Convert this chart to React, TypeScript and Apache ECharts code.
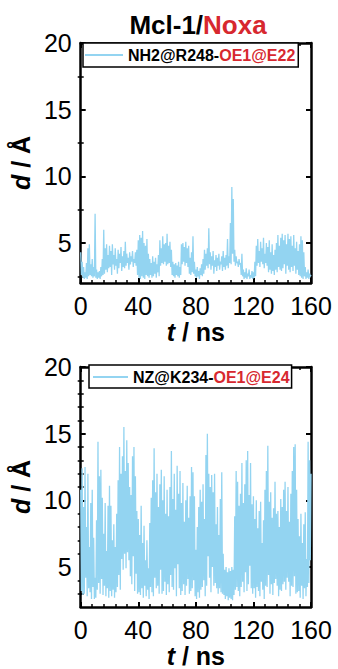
import React, { useEffect, useRef } from "react";
import * as echarts from "echarts";

// ---- data ----
const T_STEP_NS = 0.5;
const X_MIN = 0;
const X_MAX = 160;
const X_INTERVAL = 40;
const Y_MIN = 2;
const Y_MAX = 20;
const yMajorTicks = [5, 10, 15, 20];
const topMinorTicks = [2.5, 7.5, 12.5, 17.5];
const bottomMinorTicks = [3, 4, 6, 7, 8, 9, 11, 12, 13, 14, 16, 17, 18, 19];
const titleParts = ["Mcl-1/", "Noxa"];
const topSeriesName = "NH2@R248-OE1@E22";
const bottomSeriesName = "NZ@K234-OE1@E24";
const xAxisTitle = ["t", " / ns"];
const yAxisTitle = ["d", " / Å"];

const topDistance = [
  4.3, 2.6, 3.6, 2.4, 3.2, 2.3, 2.8, 2.4, 3.5, 2.3, 4.6, 2.5, 4.9, 2.6, 3.4, 2.5, 3.8, 2.4, 3.2, 2.5,
  7.2, 2.4, 3.0, 2.3, 2.8, 2.4, 2.9, 2.3, 3.2, 2.5, 3.8, 2.6, 6.0, 2.7, 4.6, 3.0, 4.9, 2.8, 4.1, 3.1,
  4.8, 3.2, 4.4, 2.6, 4.9, 3.4, 4.1, 3.0, 4.6, 3.3, 3.8, 2.7, 4.5, 3.1, 4.2, 3.5, 4.7, 2.9, 4.0, 3.2,
  4.4, 3.1, 5.1, 3.3, 4.2, 3.5, 3.9, 3.0, 4.3, 3.4, 4.0, 3.6, 4.4, 3.2, 3.8, 3.5, 4.3, 3.3, 4.5, 2.6,
  5.2, 2.4, 5.6, 2.3, 5.4, 2.5, 5.9, 2.4, 5.0, 2.3, 4.8, 2.6, 5.3, 2.5, 4.2, 2.4, 3.8, 2.6, 3.5, 2.4,
  4.0, 2.5, 3.6, 2.7, 3.9, 2.4, 3.4, 2.8, 4.1, 2.5, 5.2, 3.3, 4.6, 3.5, 5.5, 3.4, 4.9, 3.6, 5.0, 3.3,
  5.7, 3.4, 4.8, 3.5, 5.1, 3.2, 4.5, 2.6, 3.6, 2.5, 3.4, 2.4, 3.5, 2.6, 3.3, 2.5, 3.6, 2.4, 3.2, 2.6,
  4.9, 3.4, 5.0, 3.6, 4.7, 3.3, 5.1, 3.5, 4.6, 3.2, 4.8, 2.7, 3.9, 2.6, 4.3, 2.8, 5.5, 2.7, 3.6, 2.5,
  3.0, 2.4, 3.2, 2.5, 2.9, 2.3, 3.1, 2.6, 3.4, 2.5, 3.8, 2.7, 4.5, 3.0, 4.2, 3.3, 4.6, 3.1, 6.1, 3.4,
  4.3, 3.0, 4.0, 3.3, 4.4, 2.7, 3.7, 3.2, 4.1, 2.9, 3.9, 3.3, 4.2, 3.0, 3.6, 3.4, 4.0, 2.9, 4.4, 3.2,
  3.9, 3.0, 4.1, 3.3, 5.3, 3.1, 4.0, 3.5, 6.5, 3.4, 9.2, 4.2, 8.3, 3.6, 4.5, 3.3, 4.0, 3.5, 3.6, 3.2,
  3.8, 3.4, 3.5, 2.6, 4.2, 2.5, 3.0, 2.3, 2.8, 2.4, 3.1, 2.3, 2.7, 2.5, 3.0, 2.3, 2.6, 2.4, 2.9, 2.3,
  2.8, 2.4, 3.6, 2.5, 4.8, 3.3, 5.3, 3.5, 4.4, 3.2, 5.1, 3.6, 4.6, 3.4, 5.4, 3.1, 4.2, 3.5, 5.0, 3.3,
  4.7, 2.8, 5.2, 3.0, 4.3, 2.7, 4.9, 2.9, 4.1, 2.6, 4.5, 3.0, 5.0, 2.8, 5.6, 3.2, 4.8, 3.0, 5.4, 2.9,
  5.7, 3.1, 5.2, 3.4, 5.6, 2.7, 4.9, 3.3, 5.7, 3.0, 5.3, 2.8, 5.5, 3.2, 4.8, 2.9, 5.6, 3.3, 4.6, 2.7,
  5.1, 3.0, 4.4, 2.6, 4.9, 2.5, 5.5, 2.4, 5.2, 2.3, 4.3, 2.5, 3.2, 2.3, 2.8, 2.4, 3.0, 2.3, 2.7, 2.5, 2.6,
];

const bottomDistance = [
  10.8, 3.2, 12.4, 2.9, 9.5, 3.0, 12.5, 4.2, 8.0, 2.8, 12.0, 3.4, 6.5, 3.1, 9.8, 2.6, 10.8, 3.5, 7.2, 2.6,
  4.2, 2.7, 8.5, 3.3, 14.4, 3.8, 11.8, 3.0, 12.3, 4.1, 10.2, 2.9, 7.5, 3.6, 9.8, 2.8, 6.2, 3.4, 9.6, 2.7,
  11.1, 3.2, 9.6, 2.8, 7.0, 3.3, 8.2, 2.7, 6.5, 3.1, 9.0, 3.5, 11.5, 4.4, 14.0, 3.3, 12.0, 5.6, 13.3, 4.8,
  15.5, 6.0, 12.2, 4.9, 14.5, 6.1, 12.8, 5.5, 11.0, 4.3, 10.4, 3.7, 13.3, 5.8, 14.0, 3.2, 11.8, 4.5, 9.2, 3.0,
  8.6, 3.1, 7.4, 2.9, 9.6, 3.4, 6.8, 2.7, 8.1, 3.6, 5.5, 2.8, 7.0, 3.3, 4.9, 2.6, 8.3, 3.5, 10.2, 3.1,
  11.5, 2.8, 13.9, 4.2, 10.6, 3.4, 12.0, 3.6, 9.5, 3.0, 11.2, 4.8, 12.3, 3.0, 10.0, 3.2, 11.8, 3.9, 9.0, 2.9,
  10.8, 3.7, 8.8, 3.1, 11.0, 4.4, 13.7, 3.5, 10.1, 3.3, 12.0, 4.9, 9.3, 2.8, 12.6, 5.2, 10.5, 3.4, 12.2, 2.9,
  9.8, 3.2, 11.3, 3.7, 8.4, 2.9, 10.0, 3.6, 11.1, 4.1, 8.7, 3.0, 10.3, 3.2, 12.5, 3.4, 12.1, 4.0, 10.3, 2.8,
  6.3, 2.6, 8.0, 3.1, 9.5, 2.7, 10.8, 3.3, 9.9, 3.5, 11.2, 4.0, 8.6, 2.8, 13.4, 3.6, 15.0, 5.8, 12.0, 4.2,
  11.0, 3.1, 11.9, 5.0, 10.6, 3.6, 12.0, 3.8, 8.2, 3.4, 9.5, 3.0, 7.4, 3.4, 10.1, 3.1, 12.1, 3.0, 6.0, 2.9,
  4.8, 2.6, 5.0, 2.8, 4.6, 2.5, 4.9, 2.7, 4.7, 2.6, 5.0, 2.5, 4.8, 2.9, 8.8, 3.3, 12.2, 3.5, 11.4, 3.2,
  9.6, 2.8, 10.5, 3.5, 12.8, 3.9, 9.8, 3.1, 11.2, 4.6, 13.0, 3.2, 13.7, 3.7, 10.4, 5.1, 12.8, 3.4, 9.7, 3.0,
  10.3, 3.4, 8.6, 2.7, 10.0, 3.5, 7.9, 3.2, 9.2, 2.8, 9.9, 3.9, 6.8, 3.3, 8.5, 2.6, 10.8, 3.6, 12.2, 3.5,
  14.1, 4.4, 9.9, 3.0, 10.6, 3.7, 8.7, 2.9, 9.4, 3.8, 11.4, 4.1, 9.0, 3.6, 9.2, 2.8, 8.0, 3.3, 10.1, 3.2,
  9.5, 3.7, 10.8, 3.9, 11.4, 3.3, 9.2, 4.2, 11.0, 3.9, 8.4, 2.8, 10.5, 3.6, 12.2, 3.5, 14.0, 4.3, 14.2, 3.0,
  10.8, 3.1, 8.6, 3.2, 7.3, 2.7, 9.0, 3.6, 6.8, 2.6, 8.2, 3.4, 9.1, 2.8, 5.6, 3.5, 14.4, 3.8, 13.0, 5.5, 12.0,
];

// ---- styles ----
const FONT = '"Liberation Sans", Arial, Helvetica, sans-serif';
const BLUE = "#93d4f1";
const RED = "#d7282f";
const BLACK = "#000";

const GRIDS = [
  { left: 75, top: 43, width: 236, height: 240 },
  { left: 75, top: 367, width: 236, height: 240 },
];

function toPairs(values: number[]) {
  return values.map((v, i) => [i * T_STEP_NS, v]);
}

function legendFormatter(name: string) {
  const k = name.indexOf("-");
  return `{a|${name.slice(0, k + 1)}}{b|${name.slice(k + 1)}}`;
}

function xAxes(gridIndex: number) {
  const common = {
    type: "value",
    gridIndex,
    min: X_MIN,
    max: X_MAX,
    interval: X_INTERVAL,
    splitLine: { show: false },
    axisLine: { show: true, onZero: false, lineStyle: { color: BLACK, width: 2.5 } },
    axisTick: { show: true, inside: true, length: 5, lineStyle: { color: BLACK, width: 2 } },
    minorTick: { show: true, splitNumber: 5, length: 3, lineStyle: { color: BLACK, width: 1.5 } },
  };
  return [
    {
      ...common,
      position: "bottom",
      axisLabel: { show: true, fontSize: 25, color: BLACK, fontFamily: FONT, margin: 10 },
      name: `{i|${xAxisTitle[0]}}${xAxisTitle[1]}`,
      nameLocation: "middle",
      nameGap: 36,
      nameTextStyle: {
        fontSize: 25,
        fontWeight: "bold",
        color: BLACK,
        fontFamily: FONT,
        rich: { i: { fontSize: 25, fontWeight: "bold", fontStyle: "italic", color: BLACK, fontFamily: FONT } },
      },
    },
    { ...common, position: "top", axisLabel: { show: false } },
  ];
}

function yAxes(gridIndex: number, minorTicks: number[]) {
  const base = {
    type: "value",
    gridIndex,
    min: Y_MIN,
    max: Y_MAX,
    splitLine: { show: false },
  };
  const major = (position: string, withLabel: boolean) => ({
    ...base,
    position,
    axisLine: { show: true, onZero: false, lineStyle: { color: BLACK, width: 2.5 } },
    axisTick: {
      show: true,
      inside: true,
      length: 5,
      customValues: yMajorTicks,
      lineStyle: { color: BLACK, width: 2 },
    },
    axisLabel: withLabel
      ? { show: true, customValues: yMajorTicks, fontSize: 25, color: BLACK, fontFamily: FONT, margin: 9 }
      : { show: false },
    ...(withLabel
      ? {
          name: `{i|${yAxisTitle[0]}}${yAxisTitle[1]}`,
          nameLocation: "middle",
          nameGap: 39,
          nameTextStyle: {
            fontSize: 25,
            fontWeight: "bold",
            color: BLACK,
            fontFamily: FONT,
            rich: { i: { fontSize: 25, fontWeight: "bold", fontStyle: "italic", color: BLACK, fontFamily: FONT } },
          },
        }
      : {}),
  });
  const minor = (position: string) => ({
    ...base,
    position,
    axisLine: { show: false },
    axisLabel: { show: false },
    axisTick: {
      show: true,
      inside: true,
      length: 3,
      customValues: minorTicks,
      lineStyle: { color: BLACK, width: 1.5 },
    },
  });
  return [major("left", true), minor("left"), major("right", false), minor("right")];
}

function legendFor(name: string, left: number, top: number, itemWidth: number, padding: number[]) {
  return {
    data: [name],
    left,
    top,
    orient: "horizontal",
    padding,
    itemWidth,
    itemHeight: 2,
    icon: "rect",
    selectedMode: false,
    backgroundColor: "#fff",
    borderColor: BLACK,
    borderWidth: 1.5,
    borderRadius: 0,
    formatter: legendFormatter,
    textStyle: {
      fontFamily: FONT,
      fontSize: 16,
      fontWeight: "bold",
      lineHeight: 16,
      rich: {
        a: { color: BLACK, fontSize: 16, fontWeight: "bold", fontFamily: FONT, lineHeight: 16 },
        b: { color: RED, fontSize: 16, fontWeight: "bold", fontFamily: FONT, lineHeight: 16 },
      },
    },
  };
}

export default function App() {
  const ref = useRef<HTMLDivElement>(null);

  useEffect(() => {
    if (!ref.current) return;
    const chart = echarts.init(ref.current, null, { renderer: "svg" });
    const option = {
      animation: false,
      backgroundColor: "#fff",
      title: {
        text: `{a|${titleParts[0]}}{b|${titleParts[1]}}`,
        left: 193,
        top: 7,
        textAlign: "center",
        textStyle: {
          rich: {
            a: { color: BLACK, fontSize: 26, fontWeight: "bold", fontFamily: FONT },
            b: { color: RED, fontSize: 26, fontWeight: "bold", fontFamily: FONT },
          },
        },
      },
      legend: [
        legendFor(topSeriesName, 83, 43, 38, [4, 3, 4, 2]),
        legendFor(bottomSeriesName, 89, 365, 35, [4, 2, 3, 4]),
      ],
      grid: GRIDS.map((g) => ({ ...g, show: false })),
      xAxis: [...xAxes(0), ...xAxes(1)],
      yAxis: [...yAxes(0, topMinorTicks), ...yAxes(1, bottomMinorTicks)],
      series: [
        {
          name: topSeriesName,
          type: "line",
          xAxisIndex: 0,
          yAxisIndex: 0,
          showSymbol: false,
          symbol: "none",
          color: BLUE,
          lineStyle: { color: BLUE, width: 1.3 },
          itemStyle: { color: BLUE },
          data: toPairs(topDistance),
        },
        {
          name: bottomSeriesName,
          type: "line",
          xAxisIndex: 2,
          yAxisIndex: 4,
          showSymbol: false,
          symbol: "none",
          color: BLUE,
          lineStyle: { color: BLUE, width: 1.3 },
          itemStyle: { color: BLUE },
          data: toPairs(bottomDistance),
        },
      ],
    };
    chart.setOption(option as any);
    return () => chart.dispose();
  }, []);

  return (
    <div
      ref={ref}
      style={{ position: "absolute", left: 0, top: 0, width: 338, height: 669, background: "#fff" }}
    />
  );
}
